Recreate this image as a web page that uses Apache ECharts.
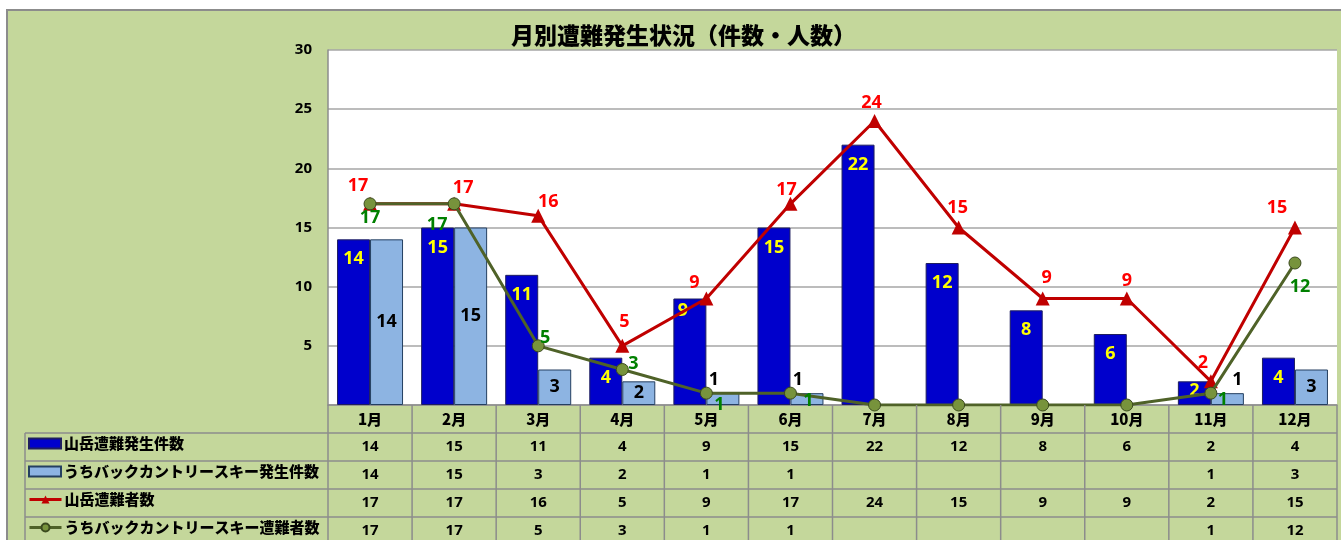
<!DOCTYPE html>
<html><head><meta charset="utf-8">
<script src="https://cdn.jsdelivr.net/npm/echarts@6/dist/echarts.min.js"></script>
<style>
html,body{margin:0;padding:0;background:#fff;overflow:hidden;}
#wrap{position:relative;width:1341px;height:540px;}
#bg{position:absolute;left:6px;top:9px;width:1400px;height:600px;background:#c4d79b;border-left:2px solid #8c8c8c;border-top:2px solid #8c8c8c;}
#c{position:absolute;left:0;top:0;width:1341px;height:540px;}
</style>
</head><body>
<div id="wrap"><div id="bg"></div><div id="c"></div></div>
<script>
// ---- data ----
const titleText = '月別遭難発生状況（件数・人数）';
const months = ['1月','2月','3月','4月','5月','6月','7月','8月','9月','10月','11月','12月'];
const seriesNames = ['山岳遭難発生件数','うちバックカントリースキー発生件数','山岳遭難者数','うちバックカントリースキー遭難者数'];
const accidents   = [14,15,11,4,9,15,22,12,8,6,2,4];
const bcAccidents = [14,15,3,2,1,1,null,null,null,null,1,3];
const victims     = [17,17,16,5,9,17,24,15,9,9,2,15];
const bcVictims   = [17,17,5,3,1,1,null,null,null,null,1,12];
const yMin = 0, yMax = 30, yStep = 5;

// ---- label placement tweaks (style only) ----
const blueOff  = [[0,0],[0,0],[0,0],[0,0],[-7,-8],[0,0],[0,0],[0,0],[0,0],[0,0],[0,-10],[0,0]];
const lightOff = [[0,0],[0,0],[0,0],[0,0],[-9,0],[-9,0],[0,0],[0,0],[0,0],[0,0],[10,0],[0,0]];
const redOff   = [[-12,-18],[9,-16],[10,-14],[2,-24],[-12,-16],[-4,-14],[-3,-18],[-1,-20],[4,-21],[0,-18],[-8,-18],[-18,-20]];
const greenOff = [[0,14],[-17,21],[7,-8],[11,-6],[13,12],[18,8],[0,0],[0,0],[0,0],[0,0],[12,7],[5,24]];

const NUM_FONT = "'Noto Sans', sans-serif";
const JP_FONT = "'Noto Sans CJK JP', sans-serif";
const C_BLUE = '#0000cc', C_LIGHT = '#8db4e2', C_RED = '#c00000', C_GREEN = '#4f6228', C_GDOT = '#77933c';
const GRID_LINE = '#8c8c8c';
const legendIcons = ['rect','rect',undefined,undefined];

const chart = echarts.init(document.getElementById('c'), null, {renderer:'canvas'});

const dataLabel = (color) => ({show:true, color, fontFamily:NUM_FONT, fontWeight:'bold', fontSize:18});

const option = {
  animation:false,
  backgroundColor:'transparent',
  title:{text:titleText, left:511, top:24, padding:0,
    textStyle:{fontFamily:JP_FONT, fontWeight:900, fontSize:23, color:'#000'}},
  grid:{left:328, top:50, right:4, bottom:135, show:true, backgroundColor:'#fff', borderWidth:0},
  legend: seriesNames.map((n,i)=>{
    const l = {
      data:[n], left:28, top:436 + i*28, orient:'horizontal', selectedMode:false,
      itemWidth:32, itemHeight:10, itemGap:0, padding:0,
      lineStyle:{width:3},
      textStyle:{fontFamily:JP_FONT, fontWeight:900, fontSize:15, color:'#000', padding:[0,0,0,-2]}
    };
    if (legendIcons[i]) l.icon = legendIcons[i];
    return l;
  }),
  xAxis:{type:'category', data:months, boundaryGap:true,
    axisLabel:{show:false}, axisTick:{show:false},
    axisLine:{show:true, lineStyle:{color:GRID_LINE, width:1.5}}},
  yAxis:{type:'value', min:yMin, max:yMax, interval:yStep,
    axisLine:{show:true, lineStyle:{color:GRID_LINE, width:1.5}},
    axisTick:{show:false},
    axisLabel:{margin:16, color:'#000', fontFamily:NUM_FONT, fontWeight:'bold', fontSize:15,
      formatter:(v)=> v===0 ? '' : String(v)},
    splitLine:{lineStyle:{color:'#a6a6a6', width:1.5}}},
  series:[
    {name:seriesNames[0], type:'bar', barWidth:33, barGap:'0%',
      itemStyle:{color:C_BLUE, borderColor:'#1f1f5f', borderWidth:1},
      label:Object.assign(dataLabel('#ffff00'), {position:'insideTop', distance:11}),
      data:accidents.map((v,i)=>({value:v, label:{offset:blueOff[i]}}))},
    {name:seriesNames[1], type:'bar', barWidth:33, barGap:'0%',
      itemStyle:{color:C_LIGHT, borderColor:'#243f60', borderWidth:1},
      label:Object.assign(dataLabel('#000'), {position:'inside'}),
      data:bcAccidents.map((v,i)=>({value:v,
        label: (v!==null && v<=1) ? {position:'top', distance:4, offset:lightOff[i]} : {offset:lightOff[i]}}))},
    {name:seriesNames[2], type:'line', z:3,
      lineStyle:{color:C_RED, width:3}, itemStyle:{color:C_RED},
      symbol:'triangle', symbolSize:14, showAllSymbol:true,
      label:Object.assign(dataLabel('#ff0000'), {position:'inside'}),
      data:victims.map((v,i)=>({value:v, label:{offset:redOff[i]}}))},
    {name:seriesNames[3], type:'line', z:4,
      lineStyle:{color:C_GREEN, width:3}, itemStyle:{color:C_GDOT, borderColor:'#3b4a1e', borderWidth:1},
      symbol:'circle', symbolSize:12, showAllSymbol:true,
      label:Object.assign(dataLabel('#008000'), {position:'inside'}),
      // blank cells are plotted as zero, as in the original spreadsheet chart
      data:bcVictims.map((v,i)=>({value: v===null ? 0 : v,
        label: v===null ? {show:false} : {offset:greenOff[i]}}))}
  ]
};
chart.setOption(option);

// ---- data table under the plot ----
function buildTable(){
  const centers = months.map((m,i)=>chart.convertToPixel({xAxisIndex:0}, i));
  const band = centers[1]-centers[0];
  const y0 = chart.convertToPixel({yAxisIndex:0}, yMin);
  const xL = centers[0]-band/2, xR = centers[centers.length-1]+band/2;
  const rowH = 28;
  const rows = [y0, y0+rowH, y0+2*rowH, y0+3*rowH, y0+4*rowH, y0+5*rowH];
  const legLeft = 25;
  const els = [];
  const ln = (x1,y1,x2,y2)=>els.push({type:'line', z:50, silent:true,
    shape:{x1,y1,x2,y2}, style:{stroke:GRID_LINE, lineWidth:1.5}});
  for (let r=1;r<rows.length-1;r++) ln(legLeft, rows[r], xR, rows[r]);
  ln(legLeft, rows[1], legLeft, 545);
  for (let i=0;i<=months.length;i++){ const x=xL+i*band; ln(x, y0, x, 545); }
  const txt = (x,y,t,family,weight,size)=>els.push({type:'text', z:51, silent:true, x, y,
    style:{text:t, fill:'#000', fontFamily:family, fontWeight:weight, fontSize:size,
      textAlign:'center', textVerticalAlign:'middle', align:'center', verticalAlign:'middle'}});
  const tableRows = [accidents, bcAccidents, victims, bcVictims];
  months.forEach((m,i)=>{
    txt(centers[i], y0+rowH/2, m, JP_FONT, 900, 15);
    tableRows.forEach((arr,r)=>{
      if (arr[i]!==null) txt(centers[i], rows[r+1]+rowH/2, String(arr[i]), NUM_FONT, 'bold', 15);
    });
  });
  chart.setOption({graphic:{elements:els}});
}
buildTable();
</script>
</body></html>
